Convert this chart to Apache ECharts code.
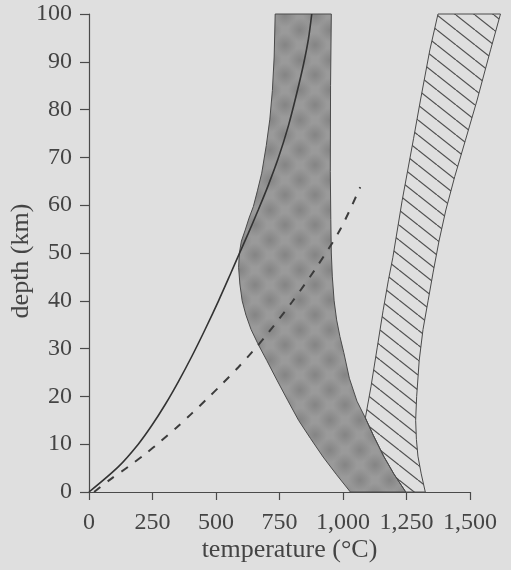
<!DOCTYPE html>
<html>
<head>
<meta charset="utf-8">
<script src="https://cdn.jsdelivr.net/npm/echarts@6/dist/echarts.min.js"></script>
<style>
html, body { margin: 0; padding: 0; background: #dfdfdf; }
#chart { width: 511px; height: 570px; }
</style>
</head>
<body>
<div id="chart"></div>
<script>
// all points are [temperature (°C), depth (km)]
var solidGeotherm = [
	[0, 0], [116, 5.3], [194, 10], [247, 13.9], [300, 18.3], [352, 23.1],
	[405, 28.4], [457, 34], [510, 40], [556, 45.5], [588, 49.4],
	[627, 54.1], [667, 59.1], [706, 64.2], [745, 69.8], [785, 76.6],
	[817, 83.2], [845, 89.6], [864, 94.8], [877, 100]
];
var dashedGeotherm = [
	[20, 0], [83, 2.6], [155, 5.3], [220, 7.9], [280, 10.5], [345, 13.5],
	[404, 16.4], [463, 19.4], [522, 22.5], [588, 26.1], [646, 29.5],
	[701, 33], [800, 39.8], [898, 47.2], [990, 55], [1068, 63.8]
];
// grey band, left edge from bottom to top
var greyLeft = [
	[1029, 0], [975, 3.6], [922, 7.3], [872, 11.2], [825, 15], [782, 19.2],
	[740, 23.4], [700, 27.5], [665, 31], [638, 34], [618, 37], [603, 40],
	[594, 43.5], [589, 47], [592, 50], [600, 52.5], [615, 54.8], [630, 57.3],
	[647, 59.7], [663, 63], [680, 66.7], [698, 72.5], [712, 78], [722, 84],
	[729, 91], [733, 100]
];
// grey band, right edge from top to bottom
var greyRight = [
	[954, 100], [951, 85], [950, 67], [952, 57], [954, 50], [958, 45],
	[965, 40], [975, 36], [988, 32.5], [1003, 29.2], [1025, 23.8], [1055, 19],
	[1088, 15.5], [1120, 11.8], [1160, 7.5], [1200, 3.8], [1247, 0]
];
// hatched band: left edge from 15 km up, right edge from top down
var hatchLeft = [
	[1088, 15.5], [1110, 22], [1135, 30.3], [1158, 38], [1179, 44.4],
	[1196, 49], [1233, 61], [1278, 74], [1305, 82], [1342, 92.5], [1374, 100]
];
var hatchRight = [
	[1620, 100], [1581, 92.5], [1528, 82], [1482, 73.6], [1440, 66],
	[1405, 59], [1378, 52.5], [1355, 46], [1335, 40], [1315, 34],
	[1300, 27.5], [1290, 20], [1286, 15], [1289, 11], [1295, 7.5],
	[1308, 3.8], [1324, 0]
];

var xTicks = [0, 250, 500, 750, 1000, 1250, 1500];

var textColor = '#444';
var axisColor = '#4a4a4a';
var fontFamily = '"Liberation Serif", "DejaVu Serif", serif';

function hatchTile() {
	var w = 19, h = 15;
	var c = document.createElement('canvas');
	c.width = w;
	c.height = h;
	var ctx = c.getContext('2d');
	ctx.strokeStyle = '#505050';
	ctx.lineWidth = 1.2;
	[-w, 0, w].forEach(function(dx) {
		ctx.beginPath();
		ctx.moveTo(dx, 0);
		ctx.lineTo(dx + w, h);
		ctx.stroke();
	});
	return c;
}

function mottleTile() {
	var s = 30;
	var c = document.createElement('canvas');
	c.width = s;
	c.height = s;
	var ctx = c.getContext('2d');
	ctx.fillStyle = '#9a9a9a';
	ctx.fillRect(0, 0, s, s);
	[[0, 0], [s, 0], [0, s], [s, s], [s / 2, s / 2]].forEach(function(p) {
		var g = ctx.createRadialGradient(p[0], p[1], 0, p[0], p[1], 12);
		g.addColorStop(0, 'rgba(100,100,100,0.4)');
		g.addColorStop(1, 'rgba(100,100,100,0)');
		ctx.fillStyle = g;
		ctx.fillRect(0, 0, s, s);
	});
	return c;
}

var greyBand = greyLeft.concat(greyRight);
var hatchBand = hatchLeft.concat(hatchRight).concat(
	greyRight.filter(function(p) { return p[1] < 15.5; }).reverse()
);

function bandRenderer(points, fill) {
	return function(params, api) {
		if (params.dataIndex !== 0) return null;
		var pts = points.map(function(p) { return api.coord(p); });
		return {
			type: 'polygon',
			shape: { points: pts },
			style: { fill: fill, stroke: '#4a4a4a', lineWidth: 1 }
		};
	};
}

function commas(v) {
	return String(v).replace(/\B(?=(\d{3})+(?!\d))/g, ',');
}

var chart = echarts.init(document.getElementById('chart'));
chart.setOption({
	backgroundColor: '#dfdfdf',
	animation: false,
	grid: { left: 89, right: 41, top: 14, bottom: 78, outerBoundsMode: 'none' },
	xAxis: {
		type: 'value',
		min: xTicks[0],
		max: xTicks[xTicks.length - 1],
		interval: 250,
		name: 'temperature (°C)',
		nameLocation: 'middle',
		nameGap: 45,
		nameMoveOverlap: false,
		nameTextStyle: { color: textColor, fontFamily: fontFamily, fontSize: 26, padding: [0, 0, 0, 20] },
		axisLine: { onZero: false, lineStyle: { color: axisColor, width: 1.2 } },
		axisTick: { length: 8, lineStyle: { color: axisColor, width: 1.2 } },
		axisLabel: { margin: 19, color: textColor, fontFamily: fontFamily, fontSize: 24, formatter: commas },
		splitLine: { show: false }
	},
	yAxis: {
		type: 'value',
		min: 0,
		max: 100,
		interval: 10,
		name: 'depth (km)',
		nameLocation: 'middle',
		nameGap: 55,
		nameMoveOverlap: false,
		nameTextStyle: { color: textColor, fontFamily: fontFamily, fontSize: 26, padding: [0, 16, 0, 0] },
		axisLine: { onZero: false, lineStyle: { color: axisColor, width: 1.2 } },
		axisTick: { length: 9, lineStyle: { color: axisColor, width: 1.2 } },
		axisLabel: { margin: 17, color: textColor, fontFamily: fontFamily, fontSize: 24 },
		splitLine: { show: false }
	},
	series: [
		{
			type: 'custom',
			silent: true,
			clip: false,
			data: greyBand,
			encode: { x: 0, y: 1 },
			renderItem: bandRenderer(greyBand, { image: mottleTile(), repeat: 'repeat' }),
			z: 1
		},
		{
			type: 'custom',
			silent: true,
			clip: false,
			data: hatchBand,
			encode: { x: 0, y: 1 },
			renderItem: bandRenderer(hatchBand, { image: hatchTile(), repeat: 'repeat' }),
			z: 1
		},
		{
			type: 'line',
			data: solidGeotherm,
			smooth: 0.3,
			showSymbol: false,
			symbol: 'none',
			silent: true,
			lineStyle: { color: '#333', width: 1.6 },
			z: 3
		},
		{
			type: 'line',
			data: dashedGeotherm,
			smooth: 0.3,
			showSymbol: false,
			symbol: 'none',
			silent: true,
			lineStyle: { color: '#3c3c3c', width: 2, type: [8, 9] },
			z: 3
		}
	]
});
</script>
</body>
</html>
